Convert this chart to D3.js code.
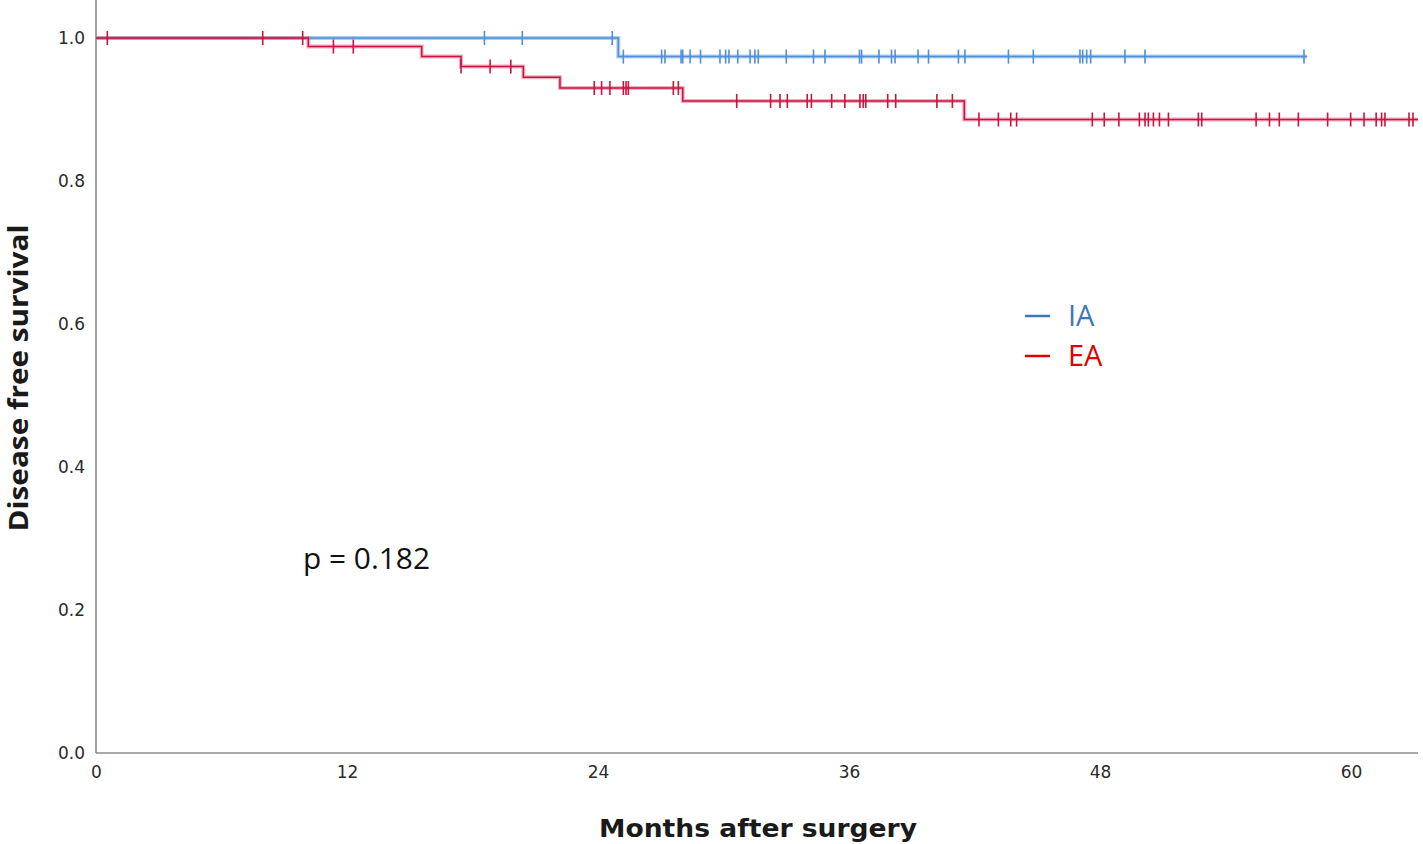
<!DOCTYPE html>
<html><head><meta charset="utf-8">
<script src="https://cdn.jsdelivr.net/npm/d3@7"></script>
<style>body{margin:0;background:#fff;} svg{display:block;}</style>
</head><body>
<script>
// Step curves (Kaplan-Meier)
const iaTimes = [0, 24.97];
const iaSurv  = [1.0, 0.974];
const iaEnd = 57.9;
const iaCensor = [18.57, 20.38, 24.68, 25.21, 27.04, 27.2, 27.97, 28.05, 28.4, 28.9, 29.83, 30.1, 30.26, 30.68, 31.27, 31.5, 31.66, 33.0, 34.3, 34.85, 36.5, 36.6, 37.43, 38.03, 38.2, 39.3, 39.8, 41.23, 41.54, 43.62, 44.81, 47.04, 47.17, 47.36, 47.55, 49.19, 50.15, 57.75];

const eaTimes = [0, 10.15, 15.57, 17.45, 20.43, 22.18, 28.05, 41.51];
const eaSurv  = [1.0, 0.988, 0.974, 0.960, 0.945, 0.930, 0.912, 0.886];
const eaEnd = 63.2;
const eaCensor = [0.54, 7.97, 9.88, 11.35, 12.3, 17.45, 18.84, 19.83, 23.82, 24.17, 24.57, 25.21, 25.34, 25.45, 27.6, 27.84, 30.63, 32.25, 32.7, 33.05, 34.0, 34.2, 35.17, 35.8, 36.52, 36.68, 36.8, 37.85, 38.23, 40.2, 40.94, 42.21, 43.14, 43.73, 44.01, 47.63, 48.2, 48.9, 49.88, 50.15, 50.31, 50.55, 50.84, 51.27, 52.7, 52.86, 55.46, 56.1, 56.57, 57.48, 58.88, 59.98, 60.62, 61.2, 61.46, 61.62, 62.77, 62.96];

const xTicks = [0, 12, 24, 36, 48, 60];
const yTicks = [0.0, 0.2, 0.4, 0.6, 0.8, 1.0];
const legendLabels = ["IA", "EA"];

const W = 1423, H = 844;
const svg = d3.select("body").append("svg").attr("width", W).attr("height", H);

const x = d3.scaleLinear().domain([0, 63.2]).range([96, 1418]);
const y = d3.scaleLinear().domain([0, 1.0]).range([753, 38]);

// axes lines
svg.append("line").attr("x1", 96).attr("x2", 96).attr("y1", 0).attr("y2", 753)
  .attr("stroke", "#a0a0a0").attr("stroke-width", 2);
svg.append("line").attr("x1", 96).attr("x2", 1418).attr("y1", 753).attr("y2", 753)
  .attr("stroke", "#8c8c8c").attr("stroke-width", 1.5);

const font = "'DejaVu Sans', Verdana, sans-serif";
const xAxis = d3.axisBottom(x).tickValues(xTicks).tickSize(0).tickPadding(13).tickFormat(d3.format("d"));
const gx = svg.append("g").attr("transform", "translate(0,753)").call(xAxis);
gx.select(".domain").remove();
gx.selectAll("text").attr("font-family", font).attr("font-size", 17).attr("fill", "#2a2a2a");

const yAxis = d3.axisLeft(y).tickValues(yTicks).tickSize(0).tickPadding(11).tickFormat(d3.format(".1f"));
const gy = svg.append("g").attr("transform", "translate(96,0)").call(yAxis);
gy.select(".domain").remove();
gy.selectAll("text").attr("font-family", font).attr("font-size", 17).attr("fill", "#2a2a2a");

// titles
svg.append("text").attr("x", 758).attr("y", 837).attr("text-anchor", "middle")
  .attr("font-family", "'DejaVu Sans', Verdana, sans-serif").attr("font-weight", "bold").attr("font-size", 25)
  .attr("textLength", 318).attr("lengthAdjust", "spacingAndGlyphs")
  .attr("fill", "#1a1a1a").text("Months after surgery");
svg.append("text").attr("transform", "translate(28,378) rotate(-90)").attr("text-anchor", "middle")
  .attr("font-family", "'Open Sans', sans-serif").attr("font-weight", "bold").attr("font-size", 26)
  .attr("textLength", 307).attr("lengthAdjust", "spacingAndGlyphs")
  .attr("fill", "#1a1a1a").text("Disease free survival");

svg.append("text").attr("x", 303).attr("y", 569).attr("font-family", "'Open Sans', sans-serif")
  .attr("font-size", 29).attr("textLength", 127).attr("lengthAdjust", "spacingAndGlyphs")
  .attr("fill", "#111").text("p = 0.182");

function survAt(times, surv, t) {
  let s = surv[0];
  for (let i = 0; i < times.length; i++) if (times[i] <= t) s = surv[i];
  return s;
}

function drawCurve(times, surv, end, censor, halo, core) {
  const pts = times.map((t, i) => [t, surv[i]]);
  pts.push([end, surv[surv.length - 1]]);
  const line = d3.line().x(d => x(d[0])).y(d => y(d[1])).curve(d3.curveStepAfter);
  const g = svg.append("g");
  g.append("path").attr("d", line(pts)).attr("fill", "none").attr("stroke", halo).attr("stroke-width", 4);
  g.append("path").attr("d", line(pts)).attr("fill", "none").attr("stroke", core).attr("stroke-width", 1.5);
  g.selectAll("line.c").data(censor).enter().append("line")
    .attr("x1", d => x(d)).attr("x2", d => x(d))
    .attr("y1", d => y(survAt(times, surv, d)) - 7)
    .attr("y2", d => y(survAt(times, surv, d)) + 7)
    .attr("stroke", core).attr("stroke-width", 1.6);
}

drawCurve(iaTimes, iaSurv, iaEnd, iaCensor, "rgba(120,170,225,0.6)", "#4f8fd6");
drawCurve(eaTimes, eaSurv, eaEnd, eaCensor, "rgba(225,110,140,0.55)", "#c8153f");

// legend
const legColors = ["#3c78b8", "#e00000"];
legendLabels.forEach((lab, i) => {
  const ly = 316 + i * 40;
  svg.append("line").attr("x1", 1025).attr("x2", 1050).attr("y1", ly).attr("y2", ly)
    .attr("stroke", legColors[i]).attr("stroke-width", 2.5);
  svg.append("text").attr("x", 1068).attr("y", ly + 10).attr("font-family", "'Open Sans', sans-serif")
    .attr("font-size", 29).attr("fill", legColors[i]).text(lab);
});
</script>
</body></html>
